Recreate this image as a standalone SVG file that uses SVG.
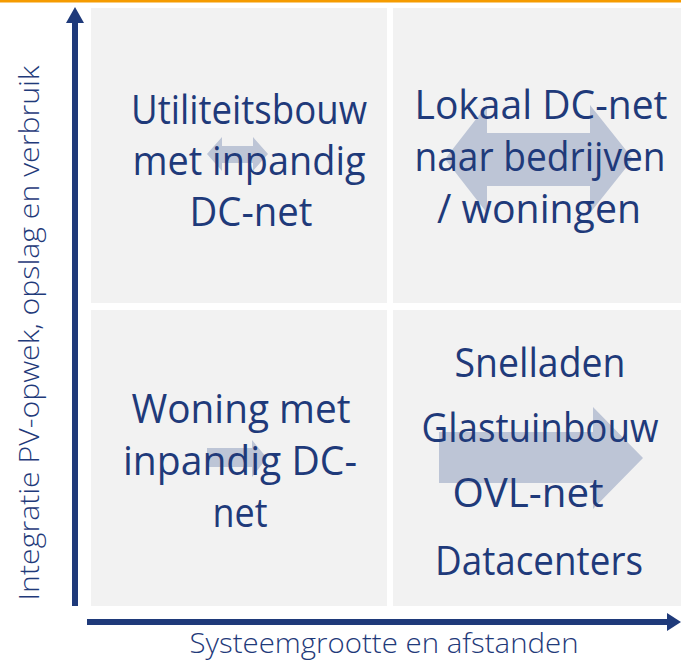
<svg xmlns="http://www.w3.org/2000/svg" width="681" height="664" viewBox="0 0 681 664">
<style>
.q{fill:#F2F2F2}
.ba{fill:#BDC5D6}
.t{font-family:"Open Sans","Noto Sans","Liberation Sans",sans-serif;font-size:40px;fill:#1F3A7A;text-anchor:middle}
.ax{font-family:"Open Sans","Noto Sans","Liberation Sans",sans-serif;font-size:28px;font-weight:300;fill:#1F3A7A;text-anchor:middle}
.axis{stroke:#1F3A7A;stroke-width:6;fill:none}
.head{fill:#1F3A7A}
</style>
<rect x="0" y="0" width="681" height="664" fill="#FFFFFF"/>
<rect x="0" y="0" width="681" height="2.5" fill="#F59B00"/>
<g id="quadrant-top-left">
<rect class="q" x="91" y="8" width="296" height="295"/>
<polygon class="ba" points="207,154 222,137 222,146 253,146 253,137 268,154 253,171 253,163 222,163 222,171"/>
<text class="t" x="249" y="124" textLength="236" lengthAdjust="spacingAndGlyphs">Utiliteitsbouw</text>
<text class="t" x="249" y="175" textLength="233" lengthAdjust="spacingAndGlyphs">met inpandig</text>
<text class="t" x="251" y="226" textLength="123" lengthAdjust="spacingAndGlyphs">DC-net</text>
</g>
<g id="quadrant-top-right">
<rect class="q" x="393" y="8" width="288" height="295"/>
<polygon class="ba" points="445,159 487,105 487,133 590,133 590,105 633,159 590,213 590,186 487,186 487,213"/>
<text class="t" x="541" y="119" textLength="253" lengthAdjust="spacingAndGlyphs">Lokaal DC-net</text>
<text class="t" x="540" y="171" textLength="251" lengthAdjust="spacingAndGlyphs">naar bedrijven</text>
<text class="t" x="539" y="223" textLength="204" lengthAdjust="spacingAndGlyphs">/ woningen</text>
</g>
<g id="quadrant-bottom-left">
<rect class="q" x="91" y="310" width="296" height="296"/>
<polygon class="ba" points="207,448 252,448 252,440 267,458 252,477 252,467 207,467"/>
<text class="t" x="241" y="423" textLength="219" lengthAdjust="spacingAndGlyphs">Woning met</text>
<text class="t" x="240" y="475" textLength="234" lengthAdjust="spacingAndGlyphs">inpandig DC-</text>
<text class="t" x="240" y="527" textLength="55" lengthAdjust="spacingAndGlyphs">net</text>
</g>
<g id="quadrant-bottom-right">
<rect class="q" x="393" y="310" width="288" height="296"/>
<polygon class="ba" points="439,432 593,432 593,407 643,458 593,509 593,483 439,483"/>
<text class="t" x="540" y="377" textLength="171" lengthAdjust="spacingAndGlyphs">Snelladen</text>
<text class="t" x="540" y="442" textLength="237" lengthAdjust="spacingAndGlyphs">Glastuinbouw</text>
<text class="t" x="528" y="507" textLength="151" lengthAdjust="spacingAndGlyphs">OVL-net</text>
<text class="t" x="539" y="575" textLength="208" lengthAdjust="spacingAndGlyphs">Datacenters</text>
</g>
<g id="connectors">
<line class="axis" x1="75" y1="606" x2="75" y2="16"/>
<polygon class="head" points="75,7 84,23 66,23"/>
<line class="axis" x1="87" y1="622" x2="668" y2="622"/>
<polygon class="head" points="681,622 667,613 667,631"/>
</g>
<g id="axis-labels">
<text class="ax" x="384" y="653" textLength="389" lengthAdjust="spacingAndGlyphs">Systeemgrootte en afstanden</text>
<text class="ax" transform="translate(39,333) rotate(-90)" x="0" y="0" textLength="535" lengthAdjust="spacingAndGlyphs">Integratie PV-opwek, opslag en verbruik</text>
</g>
</svg>
